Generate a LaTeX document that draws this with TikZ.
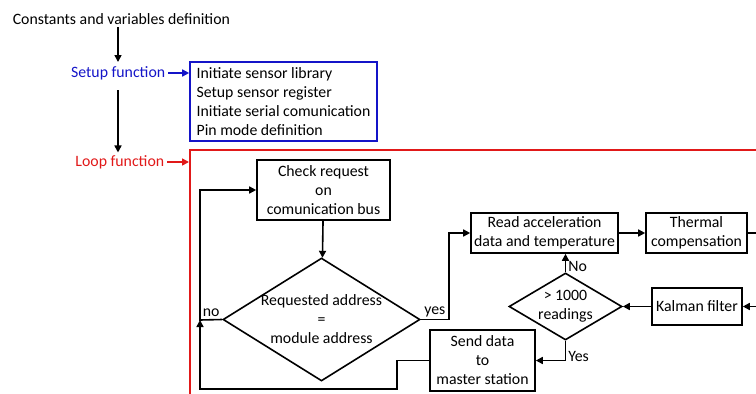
\documentclass[tikz,border=0pt]{standalone}
\usepackage{fontspec}
\setmainfont{Carlito}
\usetikzlibrary{shapes.geometric,arrows.meta}
\definecolor{setupblue}{RGB}{20,20,200}
\definecolor{loopred}{RGB}{225,25,25}
\begin{document}
\begin{tikzpicture}[x=1pt, y=-1pt, line width=1.6pt,
    font=\fontsize{15.8}{19}\selectfont,
    >={Triangle[length=7pt,width=7pt]},
    box/.style={draw, inner sep=0pt, align=center},
    decision/.style={draw, diamond, align=center},
    lbl/.style={inner sep=2pt}]
  \useasboundingbox (0,0) rectangle (756,394);
  \clip (0,0) rectangle (756,394);
  \node[lbl, anchor=west] (const) at (10,19) {Constants and variables definition};
  \node[lbl, anchor=east, text=setupblue] (setup) at (168,73) {Setup function};
  \node[lbl, anchor=east, text=loopred] (loop) at (167,162) {Loop function};
  \node[box, draw=setupblue, align=left, minimum width=187pt, minimum height=79pt] (setupbox) at (283.5,101.5)
    {Initiate sensor library\\Setup sensor register\\Initiate serial comunication\\Pin mode definition};
  \draw[loopred] (190,150) rectangle (800,420);
  \coordinate (loopin) at (189,162);
  \coordinate (nojoin) at (200,320);
  \coordinate (thermout) at (780,233);
  \coordinate (kalmanin) at (780,306.5);
  \node[box, minimum width=133pt, minimum height=60pt] (check) at (323.5,190) {Check request\\on\\comunication bus};
  \node[decision, aspect=1.6, inner sep=-3pt, minimum width=197pt, minimum height=123pt] (addr) at (321.5,319.5)
    {Requested address\\=\\module address};
  \node[box, minimum width=147pt, minimum height=40pt] (read) at (544.5,233) {Read acceleration\\data and temperature};
  \node[box, minimum width=101pt, minimum height=40pt] (thermal) at (696.5,233) {Thermal\\compensation};
  \node[box, minimum width=90pt, minimum height=37pt] (kalman) at (697,306.5) {Kalman filter};
  \node[decision, aspect=1.69, inner sep=-5pt, minimum width=113pt, minimum height=67pt] (count) at (565.5,306.5)
    {> 1000\\readings};
  \node[box, minimum width=105pt, minimum height=61pt] (send) at (482.5,360.5) {Send data\\to\\master station};
  \draw[->] (const.south -| 118,0) -- (118,62);
  \draw[->] (118,90) -- (loop.north -| 118,0);
  \draw[->, setupblue] (setup.east) -- (setup.east -| setupbox.west);
  \draw[->, loopred] (loop.east) -- (loopin);
  \draw[->] (check) -- (addr);
  \draw[->] (addr.west) -- node[lbl, above] {no} (nojoin) |- (check.west);
  \draw[->] (addr.east) -- node[lbl, above] {yes} ++(28,0) |- (read.west);
  \draw[->] (read) -- (thermal);
  \draw (thermal) -- (thermout);
  \draw[->] (kalmanin) -- (kalman);
  \draw[->] (kalman) -- (count);
  \draw[->] (count.north) -- node[lbl, pos=0.3, right] {No} (count.north |- read.south);
  \draw[->] (count.south) |- node[lbl, pos=0.4, right] {Yes} (send.east);
  \draw[->] (send.west) -| (397,389) -| (nojoin);
\end{tikzpicture}
\end{document}
